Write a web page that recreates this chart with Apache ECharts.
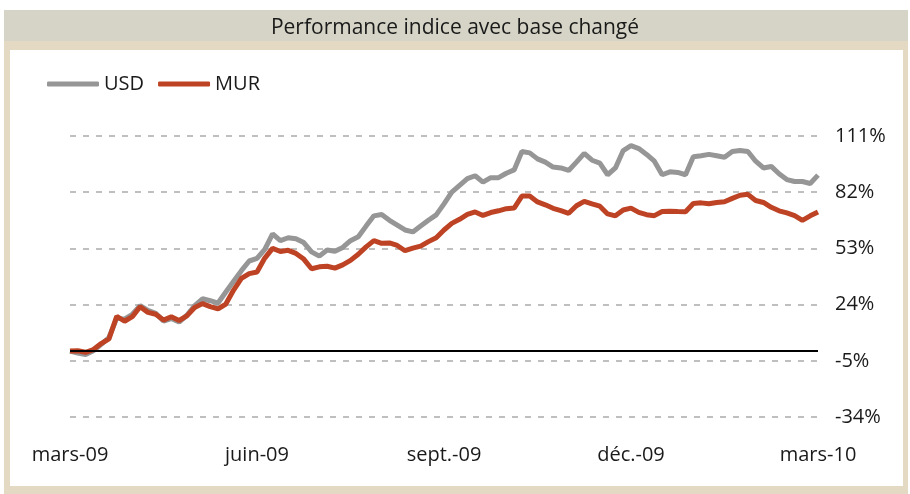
<!DOCTYPE html>
<html>
<head>
<meta charset="utf-8">
<script src="https://cdn.jsdelivr.net/npm/echarts@6/dist/echarts.min.js"></script>
<style>
  body { margin: 0; background: #ffffff; }
  .frame {
    position: absolute; left: 4px; top: 10px; width: 904px; height: 484px;
    background: #E4DAC4;
  }
  .title-bar {
    position: absolute; left: 4px; top: 10px; width: 904px; height: 31px;
    background: #D5D4C6;
  }
  .panel {
    position: absolute; left: 10px; top: 50px; width: 893px; height: 436px;
    background: #ffffff;
  }
  #chart { position: absolute; left: 0; top: 0; width: 910px; height: 494px; }
</style>
</head>
<body>
<div class="frame"></div>
<div class="title-bar"></div>
<div class="panel"></div>
<div id="chart"></div>
<script>
// tick labels
const xLabels = ['mars-09', 'juin-09', 'sept.-09', 'déc.-09', 'mars-10'];
const yTicks = [-34, -5, 24, 53, 82, 111];
const Y_BASE = yTicks[0];
const Y_STEP = 29;

// roughly every 3.8 days, mars-09 -> mars-10 (97 points, 24 per quarter)
const categories = Array.from({ length: 97 }, (_, i) => i);

// performance in %
const usd = [
  0, -1, -1.8, 0.2, 3.5, 7, 17, 16.5, 19, 23.5,
  21, 19.5, 15.5, 16.8, 15, 18.5, 23.5, 27, 26, 24.8,
  30.5, 36, 41.5, 46.5, 47.8, 52.5, 60.5, 57, 58.5, 58,
  56, 51.2, 49, 52.2, 51.5, 53.5, 57, 59, 64.5, 69.8,
  70.5, 67.5, 65, 62.5, 61.5, 64.5, 67.5, 70.3, 76, 82,
  85.5, 89, 90.5, 87.2, 89.5, 89.5, 91.8, 93.5, 103, 102.3,
  99.2, 97.5, 95, 94.5, 93.2, 97.5, 102, 98.5, 97, 91,
  94.5, 103.5, 106, 104.5, 101.5, 98, 91, 92.5, 92.2, 91,
  100.3, 100.8, 101.5, 100.8, 100, 103, 103.5, 103, 98, 94.5,
  95.3, 91.5, 88.5, 87.5, 87.5, 86.5, 90.8
];
const mur = [
  0, 0.2, -0.6, 0.8, 3.9, 6.3, 18, 15.4, 17.8, 22.9,
  20, 19, 16, 17.7, 15.8, 18.2, 22.5, 24.5, 23, 21.8,
  24.3, 31.5, 37.5, 40, 40.8, 48, 53, 51.4, 52, 50.4,
  47.5, 42.5, 43.5, 43.8, 42.8, 44.5, 46.8, 50, 53.8, 57,
  55.6, 55.8, 54.5, 51.8, 53.1, 54.2, 56.5, 58.5, 62.5, 65.9,
  68, 70.5, 71.8, 70, 71.5, 72.4, 73.5, 73.8, 80, 80,
  77, 75.5, 73.7, 72.5, 71.1, 75, 77.3, 76, 74.8, 70.8,
  69.8, 72.8, 73.8, 71.6, 70.4, 69.9, 72, 72.2, 72, 71.9,
  76.2, 76.5, 76, 76.7, 77.1, 78.8, 80.4, 80.9, 77.7, 76.7,
  74.2, 72.4, 71.3, 69.9, 67.5, 69.8, 71.8
];

const FONT = "'Open Sans', sans-serif";
const shift = arr => arr.map(v => v - Y_BASE);

const chart = echarts.init(document.getElementById('chart'));
chart.setOption({
  animation: false,
  textStyle: { fontFamily: FONT },
  title: {
    text: 'Performance indice avec base changé',
    left: 'center', top: 13,
    textStyle: { fontFamily: FONT, fontSize: 21, fontWeight: 'normal', color: '#1a1a1a' }
  },
  legend: {
    left: 42, top: 69,
    itemWidth: 52, itemHeight: 5, itemGap: 14,
    icon: 'roundRect',
    textStyle: { fontFamily: FONT, fontSize: 20, color: '#1a1a1a' },
    data: ['USD', 'MUR']
  },
  grid: { left: 70, right: 92, top: 136, bottom: 77 },
  xAxis: {
    type: 'category',
    boundaryGap: false,
    data: categories,
    axisLine: { show: false },
    axisTick: { show: false },
    axisLabel: {
      interval: idx => idx % 24 === 0,
      formatter: (v, idx) => xLabels[idx / 24] || '',
      margin: 28,
      fontFamily: FONT, fontSize: 20, color: '#1a1a1a'
    },
    splitLine: { show: false }
  },
  yAxis: {
    type: 'value',
    position: 'right',
    min: 0,
    max: yTicks[yTicks.length - 1] - Y_BASE,
    interval: Y_STEP,
    axisLine: { show: false },
    axisTick: { show: false },
    axisLabel: {
      formatter: v => (v + Y_BASE) + '%',
      margin: 17,
      fontFamily: FONT, fontSize: 20, color: '#1a1a1a'
    },
    splitLine: { lineStyle: { color: '#BFBFBF', width: 2, type: [6, 7] } }
  },
  series: [
    {
      name: 'USD', type: 'line', data: shift(usd),
      showSymbol: false, symbol: 'none',
      lineStyle: { color: '#969696', width: 5 },
      itemStyle: { color: '#969696' },
      markLine: {
        silent: true, symbol: 'none', label: { show: false },
        lineStyle: { color: '#000000', width: 2, type: 'solid' },
        data: [{ yAxis: -Y_BASE }]
      }
    },
    {
      name: 'MUR', type: 'line', data: shift(mur),
      showSymbol: false, symbol: 'none',
      lineStyle: { color: '#BE4324', width: 5 },
      itemStyle: { color: '#BE4324' }
    }
  ]
});
</script>
</body>
</html>
